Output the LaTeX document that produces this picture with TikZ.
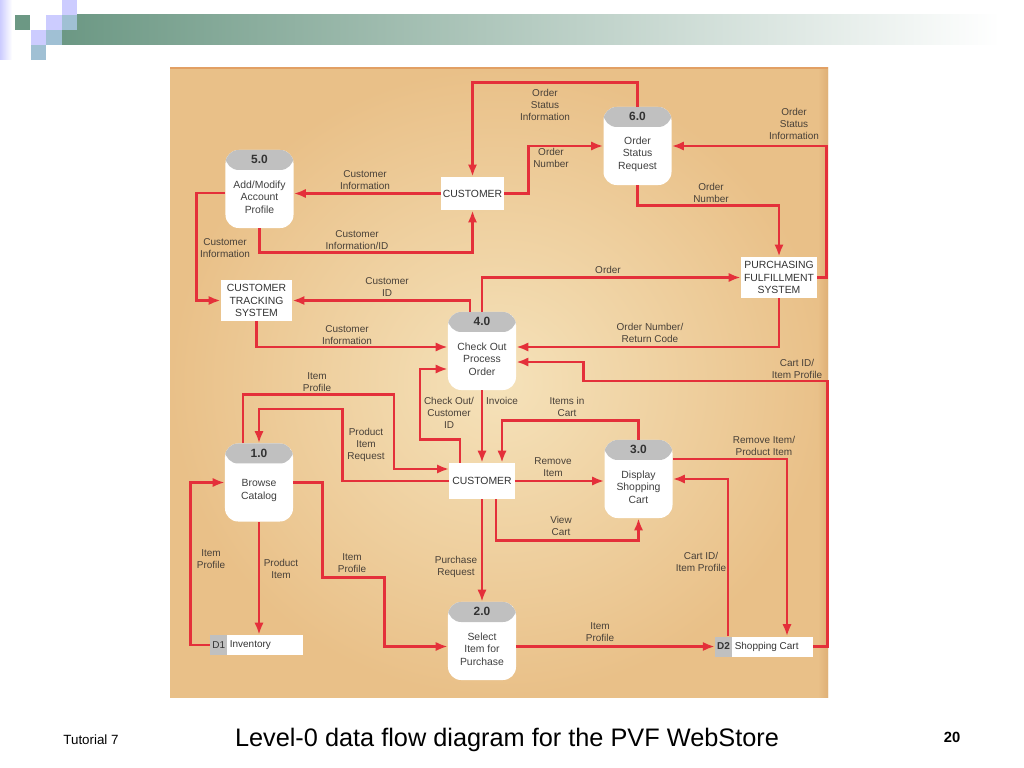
\documentclass[tikz,border=0pt]{standalone}
\usepackage{fontspec}
\setmainfont{Liberation Sans}
\usetikzlibrary{arrows.meta,shapes.multipart}
\definecolor{flowred}{RGB}{228,48,58}
\definecolor{lbltext}{RGB}{72,64,56}
\definecolor{hdrgray}{RGB}{192,192,192}
\definecolor{paperlight}{RGB}{245,226,186}
\definecolor{paperdark}{RGB}{233,192,136}
\definecolor{paperedge}{RGB}{226,160,100}
\definecolor{bargreen}{RGB}{108,152,132}
\definecolor{sqlav}{RGB}{204,204,255}
\definecolor{sqblue}{RGB}{160,192,212}

\begin{document}
\begin{tikzpicture}[x=0.025cm,y=-0.025cm,
  flow/.style={draw=flowred, line width=2.1pt, -{Latex[length=0.3cm,width=0.23cm]}},
  flowlbl/.style={font=\fontsize{7.1}{8.5}\selectfont, text=lbltext, align=center, inner sep=0pt},
  proc/.style={fill=white, rounded corners=0.33cm, minimum width=1.7cm, minimum height=1.95cm, inner sep=0pt,
    path picture={\fill[hdrgray] (path picture bounding box.north west) rectangle ([yshift=-0.5cm]path picture bounding box.north east);}},
  proctitle/.style={font=\fontsize{8.5}{9}\selectfont\bfseries, text=black!80, anchor=north, inner sep=0pt, yshift=-0.14cm},
  proctext/.style={font=\fontsize{7.4}{8.8}\selectfont, text=black!75, align=center, inner sep=0pt, yshift=-0.2cm},
  entity/.style={fill=white, font=\fontsize{7.4}{8.8}\selectfont, text=black!80, align=center, inner sep=0pt},
  store/.style={rectangle split, rectangle split horizontal, rectangle split parts=2,
    rectangle split part fill={hdrgray,white}, font=\fontsize{7.1}{8.5}\selectfont, text=black!80,
    minimum height=0.5cm, inner xsep=1.5pt, inner ysep=0pt}]
\useasboundingbox (0,0) rectangle (1024,768);
\fill[white] (0,0) rectangle (1024,768);

% slide decoration
\shade[left color=sqlav, right color=white] (0,0) rectangle (12,60);
\shade[left color=bargreen, middle color=bargreen!40, right color=white] (62,15) rectangle (1000,45);
\fill[bargreen] (15,15) rectangle (30,30);
\fill[sqlav] (62,0) rectangle (77,15);
\fill[sqlav] (46,15) rectangle (62,30);
\fill[sqblue] (62,15) rectangle (77,30);
\fill[sqlav] (31,30) rectangle (46,45);
\fill[sqblue] (46,30) rectangle (62,45);
\fill[sqblue] (31,45) rectangle (46,60);

% scanned page
\shade[inner color=paperlight, outer color=paperdark] (170,68) rectangle (828,697);
\shade[left color=paperdark, right color=paperdark!75!brown] (818,68) rectangle (828,697);
\draw[paperedge, line width=1.2pt] (170,68) -- (828,68);

% processes
\node[proc, label={[proctitle]north:5.0}, label={[proctext]center:Add/Modify\\Account\\Profile}] (p5) at (259.5,189) {};
\node[proc, label={[proctitle]north:6.0}, label={[proctext]center:Order\\Status\\Request}] (p6) at (637.5,146) {};
\node[proc, label={[proctitle]north:4.0}, label={[proctext]center:Check Out\\Process\\Order}] (p4) at (482,351) {};
\node[proc, label={[proctitle]north:1.0}, label={[proctext]center:Browse\\Catalog}] (p1) at (259,482.5) {};
\node[proc, label={[proctitle]north:3.0}, label={[proctext]center:Display\\Shopping\\Cart}] (p3) at (638.5,479) {};
\node[proc, label={[proctitle]north:2.0}, label={[proctext]center:Select\\Item for\\Purchase}] (p2) at (482,641) {};

% external entities
\node[entity, minimum width=1.58cm, minimum height=0.83cm] (cust1) at (472.5,193.5) {CUSTOMER};
\node[entity, minimum width=1.78cm, minimum height=1.03cm] (cts) at (256.5,300.5) {CUSTOMER\\TRACKING\\SYSTEM};
\node[entity, minimum width=1.9cm, minimum height=1.03cm] (pfs) at (779,277.5) {PURCHASING\\FULFILLMENT\\SYSTEM};
\node[entity, minimum width=1.63cm, minimum height=0.9cm] (cust2) at (482,481) {CUSTOMER};

% data stores
\node[store] (d1) at (256.5,645) {D1\nodepart{two}\makebox[1.77cm][l]{Inventory}};
\node[store] (d2) at (764,646.5) {\textbf{D2}\nodepart{two}\makebox[1.9cm][l]{Shopping Cart}};

% flows
\draw[flow] (p6.north) -- ++(0,-24) -| (cust1.north) node[flowlbl] (l1) at (545,105) {Order\\Status\\Information};
\draw[flow] (cust1.east) -- ++(24,0) |- (p6.west) node[flowlbl] (l2) at (551,158) {Order\\Number};
\draw[flow] (p6.south) -- ++(0,20) -| (pfs.north) node[flowlbl] (l3) at (711,193) {Order\\Number};
\draw[flow] (pfs.east) -- ++(9.5,0) |- (p6.east) node[flowlbl] (l4) at (794,124) {Order\\Status\\Information};
\draw[flow] (cust1.west) -- (cust1.west -| p5.east) node[flowlbl] (l5) at (365,180) {Customer\\Information};
\draw[flow] (p5.south) -- ++(0,24) -| (cust1.south) node[flowlbl] (l6) at (357,240) {Customer\\Information/ID};
\draw[flow] ([yshift=-0.1cm]p5.west) -- ++(-29,0) |- (cts.west) node[flowlbl] (l7) at (225,248) {Customer\\Information};
\draw[flow] ([xshift=-0.3cm]p4.north) |- (cts.east) node[flowlbl] (l8) at (387,287) {Customer\\ID};
\draw[flow] (p4.north) |- (pfs.west) node[flowlbl] (l9) at (608,270) {Order};
\draw[flow] (cts.south) |- ([yshift=0.1cm]p4.west) node[flowlbl] (l10) at (347,335) {Customer\\Information};
\draw[flow] (pfs.south) |- ([yshift=0.1cm]p4.east) node[flowlbl] (l11) at (650,333) {Order Number/\\Return Code};
\draw[flow] (d2.east) -- ++(14,0) -- ++(0,-265.5) -- ++(-244,0) |- ([yshift=-0.275cm]p4.east) node[flowlbl] (l12) at (797,369) {Cart ID/\\Item Profile};
\draw[flow] ([xshift=-0.55cm]cust2.north) -- ++(0,-23) -- ++(-40,0) |- ([yshift=-0.45cm]p4.west) node[flowlbl] (l13) at (449,413) {Check Out/\\Customer\\ID};
\draw[flow] (p4.south) -- (cust2.north) node[flowlbl] (l14) at (502,401) {Invoice};
\draw[flow] (p3.north) -- ++(0,-19) -| ([xshift=0.5cm]cust2.north) node[flowlbl] (l15) at (567,407) {Items in\\Cart};
\draw[flow] (cust2.east) -- (cust2.east -| p3.west) node[flowlbl] (l16) at (553,467) {Remove\\Item};
\draw[flow] ([xshift=0.35cm]cust2.south) -- ++(0,41) -| (p3.south) node[flowlbl] (l17) at (561,526) {View\\Cart};
\draw[flow] ([yshift=0.5cm]p3.east) -| ([xshift=0.575cm]d2.north) node[flowlbl] (l18) at (764,446) {Remove Item/\\Product Item};
\draw[flow] ([xshift=-0.9cm]d2.north) |- (p3.east) node[flowlbl] (l19) at (701,562) {Cart ID/\\Item Profile};
\draw[flow] (p2.east |- d2.west) -- (d2.west) node[flowlbl] (l20) at (600,632) {Item\\Profile};
\draw[flow] (cust2.south) -- (p2.north) node[flowlbl] (l21) at (456,567) {Purchase\\Request};
\draw[flow] (p1.east) -- ++(29,0) -- ++(0,95) -- ++(62,0) |- (p2.west |- d2.west) node[flowlbl] (l22) at (352,563) {Item\\Profile};
\draw[flow] (p1.south) -- (p1.south |- d1.north) node[flowlbl] (l23) at (281,569) {Product\\Item};
\draw[flow] (d1.west) -- ++(-19,0) |- (p1.west) node[flowlbl] (l24) at (211,559) {Item\\Profile};
\draw[flow] ([xshift=-0.4cm]p1.north) -- ++(0,-48.5) -- ++(151,0) |- ([yshift=0.3cm]cust2.west) node[flowlbl] (l25) at (317,382) {Item\\Profile};
\draw[flow] (cust2.west) -- ++(-106.5,0) -- ++(0,-72) -| (p1.north) node[flowlbl] (l26) at (366,445) {Product\\Item\\Request};

% slide footer
\node[font=\fontsize{18}{20}\selectfont] (title) at (507,740) {Level-0 data flow diagram for the PVF WebStore};
\node[font=\fontsize{9.5}{11}\selectfont] (tut) at (91,740) {Tutorial 7};
\node[font=\fontsize{10.5}{12}\selectfont\bfseries] (pg) at (952,737) {20};
\end{tikzpicture}
\end{document}
